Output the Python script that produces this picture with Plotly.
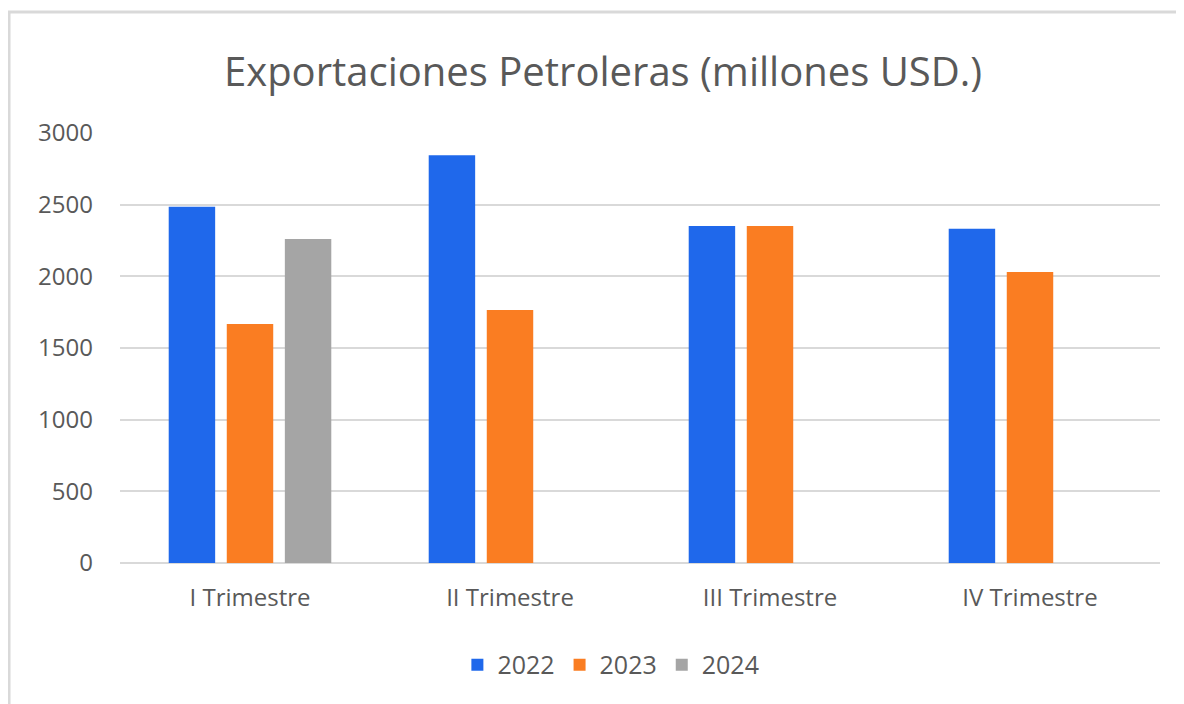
import plotly.graph_objects as go

trimestres = ["I Trimestre", "II Trimestre", "III Trimestre", "IV Trimestre"]
v2022 = [2485, 2845, 2352, 2332]
v2023 = [1668, 1765, 2352, 2030]
v2024 = [2260, None, None, None]

series = [("2022", v2022, "#1F68EB"), ("2023", v2023, "#FA7D22"), ("2024", v2024, "#A5A5A5")]

fig = go.Figure()
for name, vals, color in series:
    fig.add_trace(go.Bar(x=trimestres, y=vals, name=name, marker=dict(color=color, line=dict(width=0))))

font = "Open Sans, Noto Sans, sans-serif"
# the page body adds an 8px offset, so the figure is 8px smaller than the window
fig.update_layout(
    width=1176, height=696,
    paper_bgcolor="white", plot_bgcolor="white",
    margin=dict(l=112, r=24, t=125, b=141),
    bargap=0.33, bargroupgap=0.2,
    font=dict(family=font, color="#595959", size=24),
    title=dict(text="Exportaciones Petroleras (millones USD.)", x=0.506, xanchor="center",
               y=0.908, yanchor="middle", font=dict(size=40, color="#595959")),
    xaxis=dict(showgrid=False, showline=False, ticks="", ticklabelstandoff=18,
               tickfont=dict(size=24)),
    yaxis=dict(range=[0, 3000], tickvals=[0, 500, 1000, 1500, 2000, 2500, 3000],
               showgrid=True, gridcolor="#D9D9D9", gridwidth=1.5, zeroline=True,
               zerolinecolor="#D9D9D9", zerolinewidth=1.5, ticklabelstandoff=26,
               tickfont=dict(size=24)),
    legend=dict(orientation="h", x=0.472, xanchor="center", y=-0.237, yanchor="middle",
                font=dict(size=25), itemwidth=30, traceorder="normal"),
    shapes=[dict(type="rect", xref="paper", yref="paper", x0=-0.1067, x1=1.2, y0=-0.5, y1=1.2814,
                 line=dict(color="#D9D9D9", width=3), layer="below")],
)

fig.write_html("out.html")
